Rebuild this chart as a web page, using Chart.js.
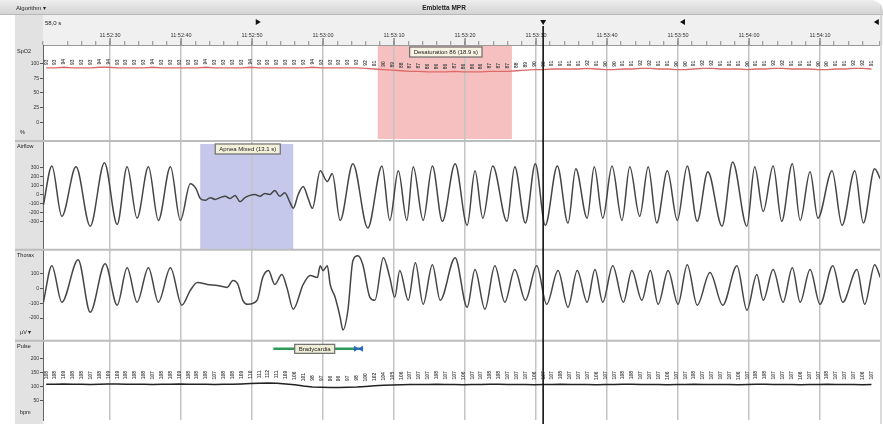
<!DOCTYPE html>
<html>
<head>
<meta charset="utf-8">
<script src="https://cdn.jsdelivr.net/npm/chart.js@4.4.1/dist/chart.umd.min.js"></script>
<style>
  html, body { margin: 0; padding: 0; background: #fff; }
  #wrap { width: 883px; height: 424px; overflow: hidden; border-top-right-radius: 12px; }
  canvas { display: block; }
</style>
</head>
<body>
<div id="wrap"><canvas id="psg" width="883" height="424"></canvas></div>
<script>
// time axis in seconds, 0 = first labelled grid line
var timeLabels = ["11:52:30", "11:52:40", "11:52:50", "11:53:00", "11:53:10", "11:53:20",
                  "11:53:30", "11:53:40", "11:53:50", "11:54:00", "11:54:10"];

var spo2Ticks = [0, 25, 50, 75, 100];
var flowTicks = [-300, -200, -100, 0, 100, 200, 300];
var thoraxTicks = [-200, -100, 0, 100];
var pulseTicks = [50, 100, 150, 200];

// SpO2 (%) and pulse (bpm), one value every 1.25 s starting at -9 s
var sampleStart = -9, sampleStep = 1.25;
var spo2 = [93,93,94,93,93,93,94,94,93,93,93,93,94,93,93,93,93,93,94,93,93,93,93,94,93,93,93,93,93,93,94,93,93,93,93,93,
            92,91,90,89,
            88,87,87,86,86,86,87,86,86,86,87,87,87,88,
            89,90,90,91,91,
            91,91,92,91,90,90,91,91,92,92,91,91,90,90,91,92,92,91,91,91,90,91,91,92,92,91,91,91,90,90,91,91,92,92,91];
var pulse = [108,108,109,108,108,107,108,109,109,108,108,108,107,108,108,109,108,108,108,107,108,108,109,
             110,111,112,111,109,106,
             101,98,97,96,96,97,98,100,
             102,104,105,106,107,
             107,107,108,107,107,106,107,107,108,108,107,107,107,106,107,107,108,107,107,107,106,107,107,108,108,107,
             107,107,106,107,107,108,107,107,107,107,106,107,108,108,107,107,107,106,107,107,108,107,107,107,106,107];

// airflow [s, value] - breath peaks and troughs
var airflow = [[-9.4,-120],[-8.2,320],[-6.8,-245],[-4.8,310],[-2.8,-355],[-0.8,355],[1.0,-335],[2.4,310],[3.8,-265],
  [5.4,310],[6.8,-290],[8.5,310],[9.9,-290],[11.3,120],[12.1,65],[12.7,-45],[13.4,-65],[14.1,-35],[14.8,-55],
  [15.5,-35],[16.2,-20],[16.9,-45],[17.6,-10],[18.3,-80],[19.0,-35],[19.7,-10],[20.4,0],[21.1,-20],[21.8,10],
  [22.5,0],[23.2,45],[23.9,-20],[24.6,20],[25.4,-100],[25.8,-155],[26.5,0],[27.2,90],[27.9,-45],[28.5,-155],
  [29.6,265],[30.6,145],[31.3,235],[32.4,-290],[34.2,345],[36.3,-375],[38.3,320],[39.4,-290],[40.6,265],
  [41.8,-290],[42.7,310],[44.1,-290],[45.4,320],[46.8,-300],[48.6,345],[50.3,-345],[51.4,265],[52.5,-265],
  [53.9,320],[55.9,-300],[57.0,310],[58.5,-320],[59.9,345],[61.3,-345],[63.0,320],[64.5,-320],[65.6,290],
  [67.2,-265],[68.2,310],[69.4,-265],[70.7,320],[72.1,-290],[73.2,310],[74.6,-245],[75.8,310],[77.0,-320],
  [78.5,265],[79.9,-290],[81.3,320],[82.7,-300],[84.2,255],[86.2,-355],[87.7,365],[89.7,-355],[90.8,310],
  [92.0,-190],[93.4,320],[94.6,-300],[96.1,345],[97.2,-290],[98.6,255],[99.7,-265],[101.7,265],[103.1,-345],
  [104.9,265],[106.1,-320],[107.7,290],[108.5,175]];

// thorax effort [s, value]
var thorax = [[-9.4,-93],[-8.2,153],[-6.8,-93],[-4.5,193],[-2.8,-160],[-0.7,167],[1.0,-113],[2.4,140],[3.8,-93],
  [5.4,140],[6.8,-93],[8.5,140],[10.1,-113],[11.3,-13],[12.3,40],[13.7,27],[15.1,20],[16.5,7],[17.3,53],[18.0,27],
  [18.7,-80],[19.4,-107],[20.7,-80],[21.5,73],[22.3,120],[23.2,27],[24.2,93],[24.9,7],[25.8,-140],[27.2,27],
  [28.2,87],[29.2,73],[29.6,153],[30.0,120],[30.6,153],[31.0,27],[31.7,-60],[32.4,-193],[32.8,-280],[33.5,-147],
  [34.2,187],[34.9,220],[35.6,160],[36.6,-60],[37.3,-80],[38.5,207],[39.4,73],[40.1,-60],[40.8,120],[42.0,-80],
  [43.0,173],[44.1,-107],[45.4,160],[46.5,-80],[48.6,207],[50.3,-127],[51.4,127],[52.8,-140],[54.2,153],
  [55.6,-93],[57.0,127],[58.5,-80],[60.1,153],[61.5,-107],[63.1,120],[64.5,-127],[65.8,120],[67.2,-93],
  [68.3,127],[69.4,-93],[70.8,153],[72.3,-93],[73.5,120],[74.9,-80],[76.1,120],[77.2,-107],[78.6,120],
  [80.0,-107],[81.3,160],[82.7,-113],[84.5,107],[86.3,-113],[88.3,153],[89.7,-147],[91.1,93],[92.0,-80],
  [93.4,127],[94.8,-93],[96.1,140],[97.2,-93],[98.6,127],[100.0,-107],[101.8,153],[103.2,-93],[105.2,127],
  [106.3,-107],[107.7,160],[108.5,73]];

// scored events
var eventNames = ["Desaturation 86 (18.9 s)", "Apnea Mixed (13.1 s)", "Bradycardia"];
var eventStart = [37.7, 12.7, 23.0];
var eventEnd = [56.6, 25.8, 35.2];
var cursorTime = 61.0;
var markerTimes = [20.8, 61.0, 80.7, 108.0];
var markerShapes = ["right", "down", "left", "left"];

Chart.defaults.font.family = "'Liberation Sans', 'DejaVu Sans', sans-serif";

function samples(values) {
  return values.map(function (v, i) { return { x: sampleStart + i * sampleStep, y: v }; });
}
function pairs(list) {
  return list.map(function (p) { return { x: p[0], y: p[1] }; });
}

function channelAxis(weight, stackWeight, min, max, tickVals) {
  return {
    type: "linear", position: "left", stack: "ch", stackWeight: stackWeight, weight: weight,
    min: min, max: max,
    afterFit: function (s) { s.width = 43; },
    afterBuildTicks: function (s) { s.ticks = tickVals.map(function (v) { return { value: v }; }); },
    ticks: { font: { size: 5 }, color: "#333", padding: 1, autoSkip: false },
    grid: { drawOnChartArea: false, tickLength: 3, tickColor: "#555" },
    border: { color: "#666", width: 1 }
  };
}

function tri(c, x, y, shape) {
  c.beginPath();
  if (shape === "right") { c.moveTo(x - 2, y - 3); c.lineTo(x + 3, y); c.lineTo(x - 2, y + 3); }
  else if (shape === "left") { c.moveTo(x + 2, y - 3); c.lineTo(x - 3, y); c.lineTo(x + 2, y + 3); }
  else { c.moveTo(x - 3, y - 2); c.lineTo(x + 3, y - 2); c.lineTo(x, y + 3); }
  c.closePath();
  c.fill();
}

function labelBox(c, text, cx, top, h, bg) {
  c.font = "6px 'Liberation Sans'";
  var w = c.measureText(text).width + 8;
  c.fillStyle = bg;
  c.fillRect(cx - w / 2, top, w, h);
  c.strokeStyle = "#6d6d6d";
  c.lineWidth = 1.2;
  c.strokeRect(cx - w / 2, top, w, h);
  c.fillStyle = "#222";
  c.textAlign = "center";
  c.textBaseline = "middle";
  c.fillText(text, cx, top + h / 2 + 0.5);
  return w;
}

var decor = {
  id: "psgDecor",
  beforeDraw: function (chart) {
    var c = chart.ctx, xs = chart.scales.x, W = chart.width, H = chart.height;
    var s1 = chart.scales.ySpo2, s2 = chart.scales.yFlow;
    c.save();
    var g = c.createLinearGradient(0, 0, 0, 14);
    g.addColorStop(0, "#eeeeee");
    g.addColorStop(1, "#d4d4d4");
    c.fillStyle = g;
    c.fillRect(0, 0, W, 14);
    c.fillStyle = "#f0f0f0";
    c.fillRect(15, 14, W - 15, 31);
    c.fillStyle = "#e2e2e2";
    c.fillRect(15, 14, 28, H - 14);
    // scored event shading
    var a0 = xs.getPixelForValue(eventStart[0]), a1 = xs.getPixelForValue(eventEnd[0]);
    c.fillStyle = "#f6c0c0";
    c.fillRect(a0, s1.top, a1 - a0, s1.bottom - s1.top - 2);
    var b0 = xs.getPixelForValue(eventStart[1]), b1 = xs.getPixelForValue(eventEnd[1]);
    c.fillStyle = "#c5c8ea";
    c.fillRect(b0, s2.top + 3, b1 - b0, s2.bottom - s2.top - 3);
    c.restore();
  },
  afterDatasetsDraw: function (chart) {
    var c = chart.ctx, xs = chart.scales.x, a = chart.chartArea;
    c.save();
    c.font = "bold 5px 'Liberation Sans'";
    c.fillStyle = "#4a4a4a";
    c.textAlign = "center";
    c.textBaseline = "middle";
    [[spo2, chart.scales.ySpo2, 5.5], [pulse, chart.scales.yPulse, 9]].forEach(function (set) {
      set[0].forEach(function (v, i) {
        var x = xs.getPixelForValue(sampleStart + i * sampleStep);
        if (x < a.left + 2 || x > a.right - 2) return;
        var y = set[1].getPixelForValue(v) - set[2];
        c.save();
        c.translate(x, y);
        c.rotate(-Math.PI / 2);
        c.fillText(String(v), 0, 0);
        c.restore();
      });
    });
    c.restore();
  },
  afterDraw: function (chart) {
    var c = chart.ctx, xs = chart.scales.x, a = chart.chartArea, W = chart.width, H = chart.height;
    var panels = [chart.scales.ySpo2, chart.scales.yFlow, chart.scales.yThor, chart.scales.yPulse];
    c.save();
    // header texts
    c.fillStyle = "#222";
    c.textBaseline = "middle";
    c.textAlign = "left";
    c.font = "6px 'Liberation Sans'";
    c.fillText("Algorithm \u25BE", 16, 8);
    c.fillText("58,0 s", 45, 23);
    c.font = "bold 6.5px 'Liberation Sans'";
    c.textAlign = "center";
    c.fillText("Embletta MPR", 444, 8);
    c.strokeStyle = "#b8b8b8";
    c.lineWidth = 1;
    c.beginPath(); c.moveTo(0, 14.5); c.lineTo(W, 14.5); c.stroke();
    // major ruler ticks
    c.strokeStyle = "#8a8a8a";
    c.lineWidth = 1.5;
    for (var t = 0; t <= 100; t += 10) {
      var px = xs.getPixelForValue(t);
      c.beginPath(); c.moveTo(px, 38); c.lineTo(px, a.top); c.stroke();
    }
    // panel dividers
    c.strokeStyle = "#bdbdbd";
    c.lineWidth = 2;
    panels.slice(0, 3).forEach(function (s) {
      c.beginPath(); c.moveTo(15, s.bottom); c.lineTo(a.right, s.bottom); c.stroke();
    });
    c.strokeStyle = "#cfcfcf";
    c.lineWidth = 1.5;
    c.beginPath(); c.moveTo(W - 2, 0); c.lineTo(W - 2, H); c.stroke();
    // channel names and units
    var names = ["SpO2", "Airflow", "Thorax", "Pulse"];
    var units = ["%", "", "\u00B5V \u25BE", "bpm"];
    c.font = "5.5px 'Liberation Sans'";
    c.textAlign = "left";
    c.fillStyle = "#222";
    panels.forEach(function (s, i) {
      c.fillText(names[i], 17, s.top + 6);
      if (units[i]) c.fillText(units[i], 20, s.bottom - 8);
    });
    // cursor
    var cx = xs.getPixelForValue(cursorTime);
    c.strokeStyle = "#111";
    c.lineWidth = 1.6;
    c.beginPath(); c.moveTo(cx, 26); c.lineTo(cx, H); c.stroke();
    // markers
    c.fillStyle = "#111";
    markerTimes.forEach(function (mt, i) {
      tri(c, Math.min(xs.getPixelForValue(mt), W - 6), 22, markerShapes[i]);
    });
    // event labels
    var s1 = chart.scales.ySpo2, s2 = chart.scales.yFlow, s4 = chart.scales.yPulse;
    var d0 = xs.getPixelForValue(eventStart[0]), d1 = xs.getPixelForValue(eventEnd[0]);
    labelBox(c, eventNames[0], (d0 + d1) / 2 + 1, s1.top + 2, 10, "#f7f3e3");
    var p0 = xs.getPixelForValue(eventStart[1]), p1 = xs.getPixelForValue(eventEnd[1]);
    labelBox(c, eventNames[1], (p0 + p1) / 2 + 1, s2.top + 3, 10, "#f3f1da");
    var r0 = xs.getPixelForValue(eventStart[2]), r1 = xs.getPixelForValue(eventEnd[2]);
    var ry = s4.top + 8;
    var bc = (r0 + r1) / 2 - 2;
    c.strokeStyle = "#2f9a57";
    c.lineWidth = 2.5;
    c.beginPath(); c.moveTo(r0, ry); c.lineTo(r1, ry); c.stroke();
    labelBox(c, eventNames[2], bc, ry - 4.5, 9, "#eeeed8");
    c.fillStyle = "#2a66c8";
    tri(c, r1 - 4, ry, "right");
    tri(c, r1 + 1, ry, "left");
    c.restore();
  }
};

new Chart(document.getElementById("psg"), {
  type: "line",
  data: {
    datasets: [
      { label: "SpO2", yAxisID: "ySpo2", data: samples(spo2), borderColor: "#dc6a6a",
        borderWidth: 1.3, pointRadius: 0 },
      { label: "Airflow", yAxisID: "yFlow", data: pairs(airflow), borderColor: "#454545",
        borderWidth: 1.5, pointRadius: 0, cubicInterpolationMode: "monotone" },
      { label: "Thorax", yAxisID: "yThor", data: pairs(thorax), borderColor: "#454545",
        borderWidth: 1.5, pointRadius: 0, cubicInterpolationMode: "monotone" },
      { label: "Pulse", yAxisID: "yPulse", data: samples(pulse), borderColor: "#222",
        borderWidth: 1.5, pointRadius: 0 }
    ]
  },
  options: {
    responsive: false,
    animation: false,
    devicePixelRatio: 1,
    layout: { padding: { left: 0, right: 3, top: 0, bottom: 0 } },
    plugins: { legend: { display: false }, tooltip: { enabled: false } },
    scales: {
      x: {
        type: "linear", position: "top", min: -9.45, max: 108.45,
        afterFit: function (s) { s.height = 45; },
        ticks: {
          stepSize: 2, autoSkip: false, maxRotation: 0, padding: 2,
          font: { size: 5.5 }, color: "#333",
          callback: function (v) { return (v % 10 === 0 && v >= 0) ? timeLabels[v / 10] : ""; }
        },
        grid: {
          color: function (ctx) { return (ctx.tick && ctx.tick.value % 10 === 0) ? "#c4c4c4" : "rgba(0,0,0,0)"; },
          lineWidth: 1.5, tickLength: 4, tickColor: "#8a8a8a", tickWidth: 1
        },
        border: { color: "#9a9a9a" }
      },
      ySpo2: channelAxis(4, 97, -32, 132, spo2Ticks),
      yFlow: channelAxis(3, 110, -620, 600, flowTicks),
      yThor: channelAxis(2, 92, -353, 260, thoraxTicks),
      yPulse: channelAxis(1, 80, -21, 264, pulseTicks)
    }
  },
  plugins: [decor]
});
</script>
</body>
</html>
